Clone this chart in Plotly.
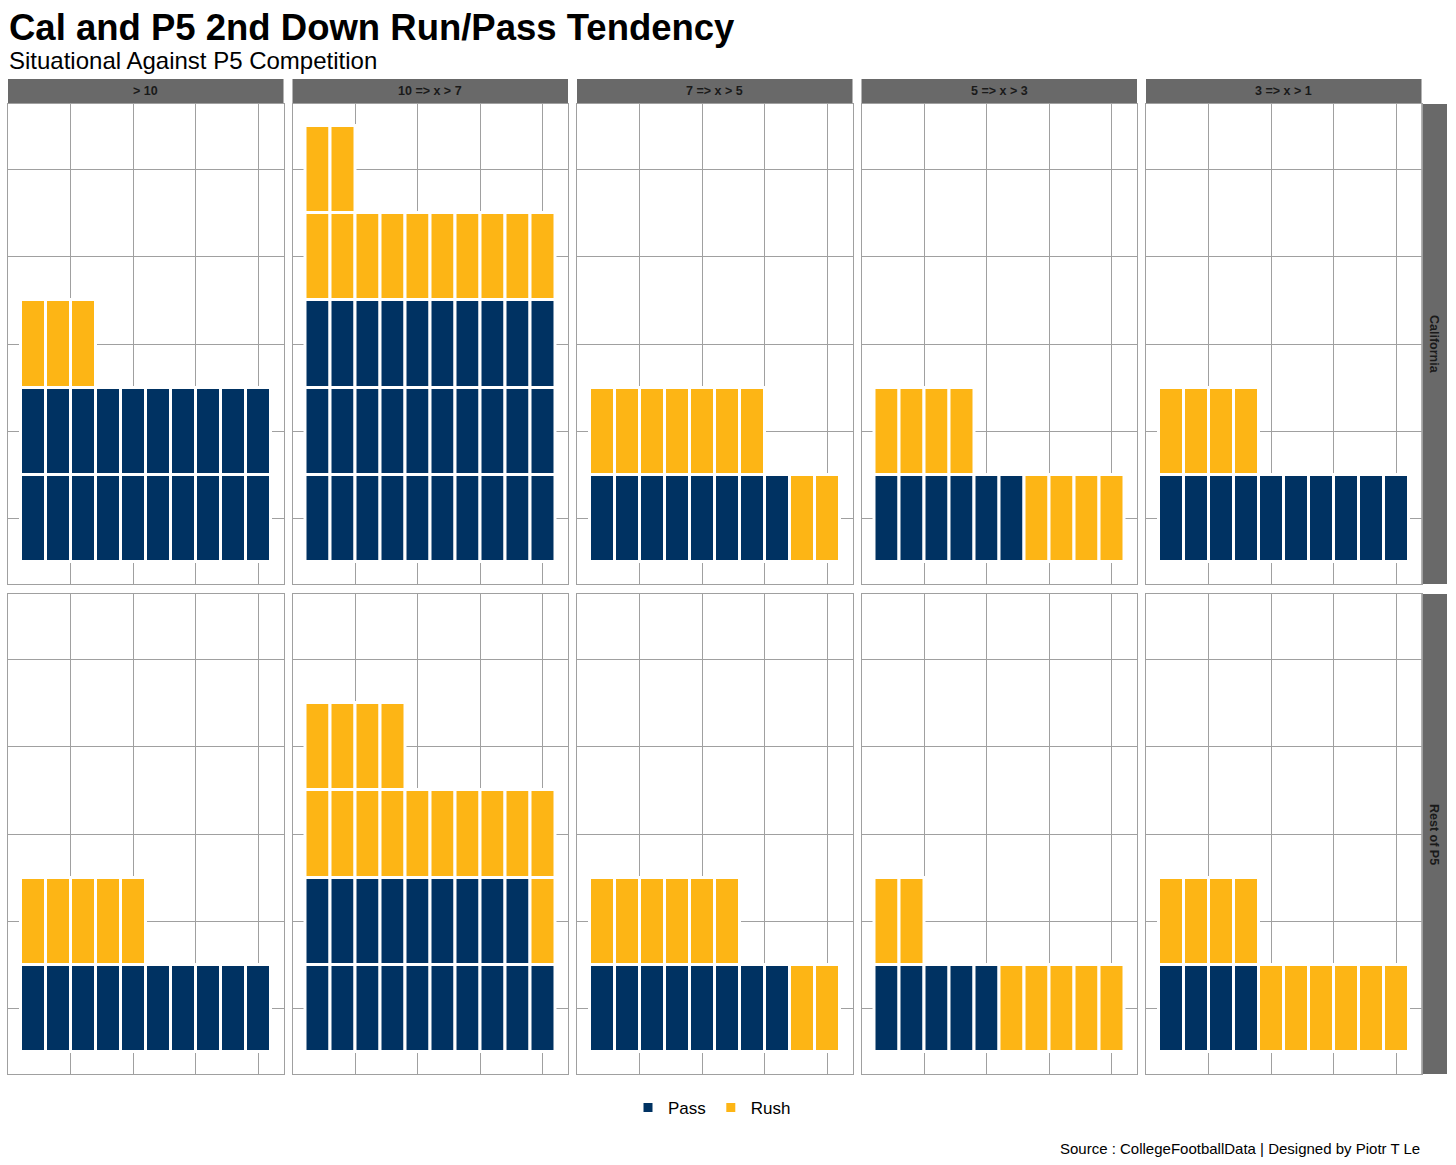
import plotly.graph_objects as go

# ---- data ----
bins = ["> 10", "10 => x > 7", "7 => x > 5", "5 => x > 3", "3 => x > 1"]
teams = ["California", "Rest of P5"]
cal_pass = [20, 30, 8, 6, 10]
cal_rush = [3, 12, 9, 8, 4]
p5_pass = [10, 19, 8, 5, 4]
p5_rush = [5, 15, 8, 7, 10]

series_names = ["Pass", "Rush"]
series_colors = ["#003262", "#FDB515"]

W, H = 1456, 1165
def px(x):
    return x / W
def py(y):
    return 1 - y / H

col_x0 = [8 + i * 284.5 for i in range(5)]
col_w = 275.5
row_y0 = [104, 594]
row_h = 480

fig = go.Figure()
team_data = [(cal_pass, cal_rush), (p5_pass, p5_rush)]

grid = "#a0a0a0"
shown = set()
for r in range(2):
    for c in range(5):
        idx = r * 5 + c + 1
        xa = "x" if idx == 1 else f"x{idx}"
        ya = "y" if idx == 1 else f"y{idx}"
        counts = [team_data[r][0][c], team_data[r][1][c]]
        k = 0
        for s, n in enumerate(counts):
            cols, bases = [], []
            for j in range(n):
                cols.append(k % 10 + 1)
                bases.append(k // 10 + 1 - 0.5)
                k += 1
            fig.add_trace(go.Bar(
                x=cols, y=[1] * n, base=bases, width=1,
                marker=dict(color=series_colors[s], line=dict(color="white", width=3)),
                name=series_names[s], legendgroup=series_names[s],
                showlegend=(series_names[s] not in shown),
                xaxis=xa, yaxis=ya, hoverinfo="skip",
            ))
            shown.add(series_names[s])
        x0 = col_x0[c]
        y0 = row_y0[r]
        fig.layout[("xaxis" if idx == 1 else f"xaxis{idx}")] = dict(
            domain=[px(x0), px(x0 + col_w)], range=[0, 11], anchor=ya,
            tickvals=[2.5, 5, 7.5, 10], showticklabels=False, ticks="",
            showgrid=True, gridcolor=grid, gridwidth=1, zeroline=False,
            showline=True, linecolor=grid, linewidth=1, mirror=True, fixedrange=True)
        fig.layout[("yaxis" if idx == 1 else f"yaxis{idx}")] = dict(
            domain=[py(y0 + row_h), py(y0)], range=[0.25, 5.75], anchor=xa,
            tickvals=[1, 2, 3, 4, 5], showticklabels=False, ticks="",
            showgrid=True, gridcolor=grid, gridwidth=1, zeroline=False,
            showline=True, linecolor=grid, linewidth=1, mirror=True, fixedrange=True)

shapes = []
annotations = []
strip_col = "#696969"
FONT = "Liberation Sans, Arial"
for c in range(5):
    x0 = col_x0[c]
    shapes.append(dict(type="rect", xref="paper", yref="paper",
                       x0=px(x0), x1=px(x0 + col_w), y0=py(104), y1=py(79),
                       fillcolor=strip_col, line=dict(width=0), layer="below"))
    annotations.append(dict(text=f"<b>{bins[c]}</b>", xref="paper", yref="paper",
                            x=px(x0 + col_w / 2), y=py(91.5), showarrow=False,
                            xanchor="center", yanchor="middle",
                            font=dict(size=12.5, color="#1a1a1a", family=FONT)))
for r in range(2):
    y0 = row_y0[r]
    shapes.append(dict(type="rect", xref="paper", yref="paper",
                       x0=px(1421.5), x1=px(1447), y0=py(y0 + row_h), y1=py(y0),
                       fillcolor=strip_col, line=dict(width=0), layer="below"))
    annotations.append(dict(text=f"<b>{teams[r]}</b>", xref="paper", yref="paper",
                            x=px(1434), y=py(y0 + row_h / 2), showarrow=False,
                            textangle=90, xanchor="center", yanchor="middle",
                            font=dict(size=12.5, color="#1a1a1a", family=FONT)))

annotations.append(dict(text="<b>Cal and P5 2nd Down Run/Pass Tendency</b>", xref="paper", yref="paper",
                        x=px(7), y=py(5), xanchor="left", yanchor="top", showarrow=False,
                        font=dict(size=36.5, color="black", family=FONT)))
annotations.append(dict(text="Situational Against P5 Competition", xref="paper", yref="paper",
                        x=px(7), y=py(45), xanchor="left", yanchor="top", showarrow=False,
                        font=dict(size=24, color="black", family=FONT)))
annotations.append(dict(text="Source : CollegeFootballData | Designed by Piotr T Le", xref="paper", yref="paper",
                        x=px(1422), y=py(1148), xanchor="right", yanchor="middle", showarrow=False,
                        font=dict(size=15, color="black", family=FONT)))

fig.update_layout(
    width=W, height=H, margin=dict(l=0, r=0, t=0, b=0),
    paper_bgcolor="white", plot_bgcolor="white",
    barmode="overlay", bargap=0,
    shapes=shapes, annotations=annotations,
    legend=dict(orientation="h", x=px(712), y=py(1108), xanchor="center", yanchor="middle",
                font=dict(size=17, color="black", family=FONT),
                itemwidth=30, tracegroupgap=0),
    font=dict(family=FONT),
)

fig.write_html("out.html", post_script="document.body.style.margin='0';",
               config={"displayModeBar": False})
